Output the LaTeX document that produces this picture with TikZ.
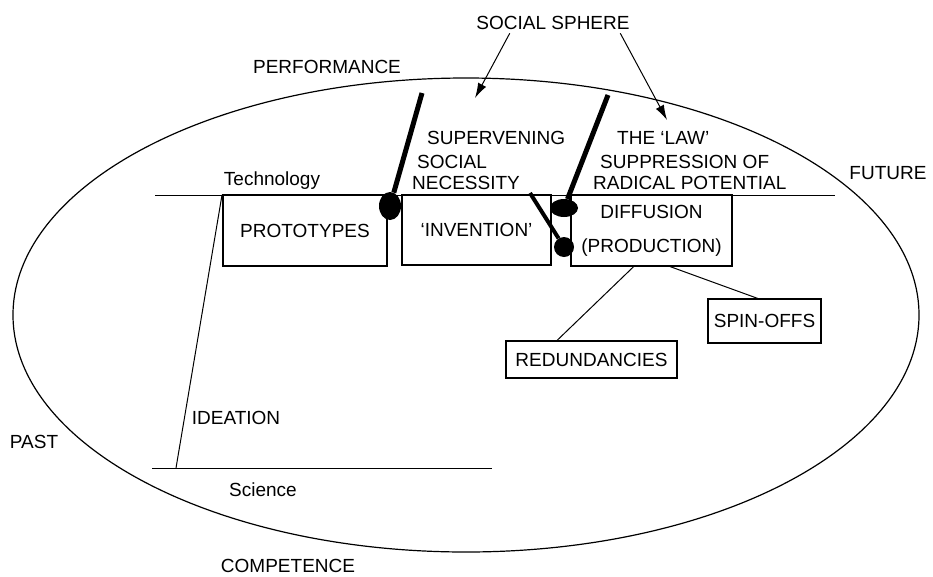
\documentclass[tikz,border=0pt]{standalone}
\usepackage{fontspec}
\setmainfont{Liberation Sans}
\usetikzlibrary{arrows.meta}
\usetikzlibrary{positioning}
\usetikzlibrary{shapes.geometric}
\usetikzlibrary{calc}

\tikzset{
  stage/.style={draw, line width=1.2pt, inner sep=0pt, align=center},
  knot/.style={ellipse, fill=black, inner sep=0pt},
  lever/.style={line width=5pt},
  rule/.style={line width=1pt},
  pointer/.style={line width=1pt, -{Latex[length=15pt,width=9pt]}},
  plain/.style={inner sep=0pt},
}

\begin{document}
\begin{tikzpicture}[x=1pt, y=-1pt, font=\fontsize{19}{22}\selectfont]
    \useasboundingbox (0,0) rectangle (933,576);

    % the sphere
    \draw [line width=1.2pt] (466,315) ellipse [x radius=453, y radius=237];

    \node (sphere) at (553,23) {SOCIAL SPHERE};
    \node (performance) at (327,67) {PERFORMANCE};
    \node (future) at (888,173) {FUTURE};
    \node (past) at (34,442) {PAST};
    \node (competence) at (288,566) {COMPETENCE};

    % technology and science levels
    \coordinate (techL) at (155,195);
    \coordinate (techR) at (835,195);
    \coordinate (sciL) at (152,468);
    \coordinate (sciR) at (492,468);
    \coordinate (ideaB) at (176,468);
    \coordinate (ideaT) at (222,195);
    \draw [rule] (techL) -- (techR);
    \draw [rule] (sciL) -- (sciR);
    \draw [rule] (ideaB) -- (ideaT);
    \node (technology) at (272,181) {Technology};
    \node (science) at (263,490) {Science};
    \node (ideation) at (236,418) {IDEATION};

    % stages
    \node [stage, minimum width=164, minimum height=71] (prototypes) at (305,230.5) {PROTOTYPES};
    \node [stage, minimum width=149, minimum height=70] (invention) at (476.5,230) {`INVENTION'};
    \node [stage, minimum width=161, minimum height=71] (diffusion) at (651.5,230.5) {DIFFUSION\\[12pt](PRODUCTION)};
    \node [stage, minimum width=113, minimum height=44] (spinoffs) at (764.5,321) {SPIN-OFFS};
    \node [stage, minimum width=171, minimum height=37] (redundancies) at (591.5,359.5) {REDUNDANCIES};

    \draw [rule] ($(diffusion.south west)!0.39!(diffusion.south east)$) -- ($(redundancies.north west)!0.3!(redundancies.north east)$);
    \draw [rule] ($(diffusion.south west)!0.615!(diffusion.south east)$) -- ($(spinoffs.north west)!0.44!(spinoffs.north east)$);

    % accelerators and brakes
    \node [plain, anchor=west] (superv) at (427,138) {SUPERVENING};
    \node [plain, anchor=west] (social) at (417,162) {SOCIAL};
    \node [plain, anchor=west] (necessity) at (412,183) {NECESSITY};
    \node [plain, anchor=west] (law) at (617,138) {THE `LAW'};
    \node [plain, anchor=west] (suppression) at (600,162) {SUPPRESSION OF};
    \node [plain, anchor=west] (radical) at (593,183) {RADICAL POTENTIAL};

    \node [knot, minimum width=22, minimum height=28] (knotA) at (390,206) {};
    \node [knot, minimum width=28, minimum height=18] (knotB) at (564,208) {};
    \node [knot, minimum width=20, minimum height=20] (knotC) at (564,247) {};
    \coordinate (leverA) at (422,93);
    \coordinate (leverB) at (608,95);
    \coordinate (leverC) at (530,193);
    \draw [lever] (leverA) -- (knotA);
    \draw [lever] (leverB) -- (knotB);
    \draw [lever, line width=4pt] (leverC) -- (knotC);

    % social sphere arrows
    \coordinate (hitA) at (475,98);
    \coordinate (hitB) at (667,120);
    \draw [pointer] ($(sphere.south west)!0.23!(sphere.south east)$) -- (hitA);
    \draw [pointer] ($(sphere.south west)!0.92!(sphere.south east)$) -- (hitB);
\end{tikzpicture}
\end{document}
